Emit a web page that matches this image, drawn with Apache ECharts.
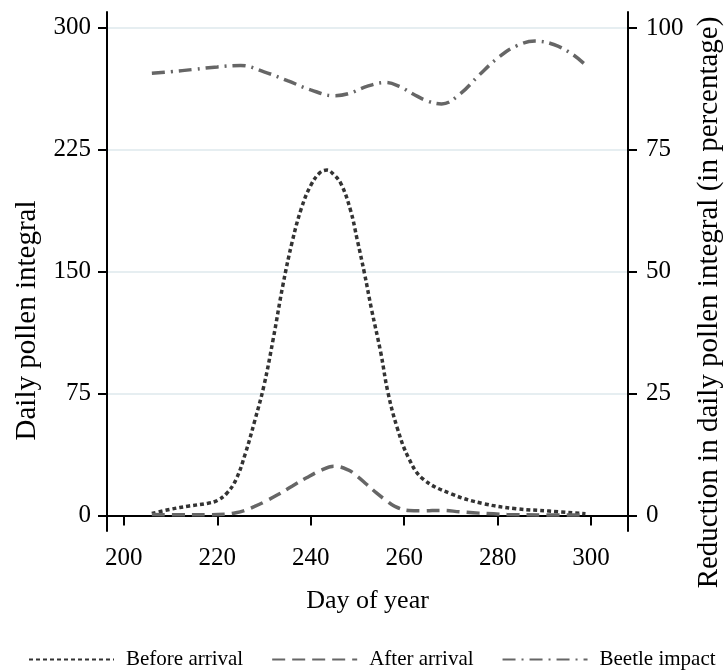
<!DOCTYPE html>
<html>
<head>
<meta charset="utf-8">
<script src="https://cdn.jsdelivr.net/npm/echarts@6/dist/echarts.min.js"></script>
<style>
  html, body { margin: 0; padding: 0; background: #fff; }
  #chart { width: 724px; height: 670px; }
</style>
</head>
<body>
<div id="chart"></div>
<script>
// day of year + value pairs
var beforeDays = [206, 210, 214, 218, 220, 222, 224, 226, 228, 230, 232, 234, 236, 238, 240, 242, 243.5, 245, 246.5, 248.5, 250, 251.5, 253, 255, 256.5, 258.5, 261, 264, 270, 277, 284, 291, 298.8];
var beforeVals = [1.2, 3.8, 5.8, 7.5, 9.2, 13.5, 22, 38, 58, 80, 109, 141, 168, 189, 203, 211, 212.5, 209.5, 204, 188, 169, 149, 127, 100, 76, 54, 35, 22.5, 13.3, 7.2, 4.1, 2.7, 1.0];

var afterDays = [206, 212, 218, 222, 224, 226, 228, 230, 233, 236, 239, 242, 245, 248, 250, 252, 254, 256, 258, 261, 264, 268, 272, 276, 282, 290, 299];
var afterVals = [0.6, 0.4, 0.4, 0.8, 1.6, 3.2, 5.5, 8.2, 12.8, 18, 23, 27.5, 30.3, 28, 24, 19, 14, 9.5, 5.5, 3, 2.8, 3.1, 2.2, 1.4, 0.6, 0.3, 0.2];

var beetleDays = [206, 210, 215, 220, 225, 230, 235, 240, 245, 248, 252, 256, 259, 262, 265, 268, 272, 276, 280, 284, 288, 292, 296, 298.8];
var beetleVals = [90.7, 91.0, 91.5, 92.0, 92.3, 91.0, 89.2, 87.3, 86.1, 86.5, 88.0, 88.8, 88.0, 86.4, 85.0, 84.4, 86.5, 90.3, 93.8, 96.3, 97.3, 96.6, 94.6, 92.4];

var xTicks = [200, 220, 240, 260, 280, 300];
var leftTicks = [0, 75, 150, 225, 300];
var rightTicks = [0, 25, 50, 75, 100];

function pairs(xs, ys) {
    return xs.map(function (x, i) { return [x, ys[i]]; });
}

var font = 'Liberation Serif';
var myChart = echarts.init(document.getElementById('chart'));

var tickLabel = { fontFamily: font, fontSize: 25, color: '#000' };

var option = {
    animation: false,
    textStyle: { fontFamily: font },
    grid: { left: 107, right: 96, top: 12, bottom: 139, outerBoundsMode: 'none' },
    legend: {
        bottom: 0,
        left: 28,
        width: 696,
        padding: 0,
        itemWidth: 85,
        itemHeight: 6,
        itemGap: 28,
        itemStyle: { opacity: 0 },
        textStyle: { fontFamily: font, fontSize: 21, color: '#000', padding: [0, 0, 0, 7] },
        data: ['Before arrival', 'After arrival', 'Beetle impact']
    },
    xAxis: {
        type: 'value',
        min: 196.4,
        max: 307.9,
        name: 'Day of year',
        nameLocation: 'middle',
        nameGap: 57,
        nameTextStyle: { fontFamily: font, fontSize: 26, color: '#000' },
        axisLine: { lineStyle: { color: '#000', width: 2 } },
        axisTick: { length: 10, lineStyle: { color: '#000', width: 2 }, customValues: xTicks },
        axisLabel: Object.assign({ margin: 15, customValues: xTicks }, tickLabel),
        splitLine: { show: false }
    },
    yAxis: [
        {
            type: 'value',
            min: -9.6,
            max: 309.8,
            position: 'left',
            name: 'Daily pollen integral',
            nameLocation: 'middle',
            nameGap: 65,
            nameTextStyle: { fontFamily: font, fontSize: 29, color: '#000', padding: [0, 98, 0, 0] },
            axisLine: { show: true, lineStyle: { color: '#000', width: 2 } },
            axisTick: { show: true, length: 9, lineStyle: { color: '#000', width: 2 }, customValues: leftTicks },
            axisLabel: Object.assign({ margin: 16, customValues: leftTicks }, tickLabel),
            splitLine: { show: true, lineStyle: { color: '#e6eef1', width: 2 } }
        },
        {
            type: 'value',
            min: -3.2,
            max: 103.27,
            position: 'right',
            name: 'Reduction in daily pollen integral (in percentage)',
            nameLocation: 'middle',
            nameGap: 46,
            nameTextStyle: { fontFamily: font, fontSize: 29, color: '#000', padding: [0, 62, 0, 0] },
            axisLine: { show: true, lineStyle: { color: '#000', width: 2 } },
            axisTick: { show: true, length: 9, lineStyle: { color: '#000', width: 2 }, customValues: rightTicks },
            axisLabel: Object.assign({ margin: 18, customValues: rightTicks }, tickLabel),
            splitLine: { show: false }
        }
    ],
    series: [
        {
            name: 'Before arrival',
            type: 'line',
            yAxisIndex: 0,
            smooth: 0.4,
            symbol: 'none',
            lineStyle: { color: '#333', width: 3.5, type: [4, 3] },
            itemStyle: { color: '#333' },
            data: pairs(beforeDays, beforeVals)
        },
        {
            name: 'After arrival',
            type: 'line',
            yAxisIndex: 0,
            smooth: 0.4,
            symbol: 'none',
            lineStyle: { color: '#666', width: 3.5, type: [13, 7] },
            itemStyle: { color: '#666' },
            data: pairs(afterDays, afterVals)
        },
        {
            name: 'Beetle impact',
            type: 'line',
            yAxisIndex: 1,
            smooth: 0.4,
            symbol: 'none',
            lineStyle: { color: '#666', width: 3.5, type: [13, 6, 2, 6] },
            itemStyle: { color: '#666' },
            data: pairs(beetleDays, beetleVals)
        }
    ]
};

myChart.setOption(option);
</script>
</body>
</html>
